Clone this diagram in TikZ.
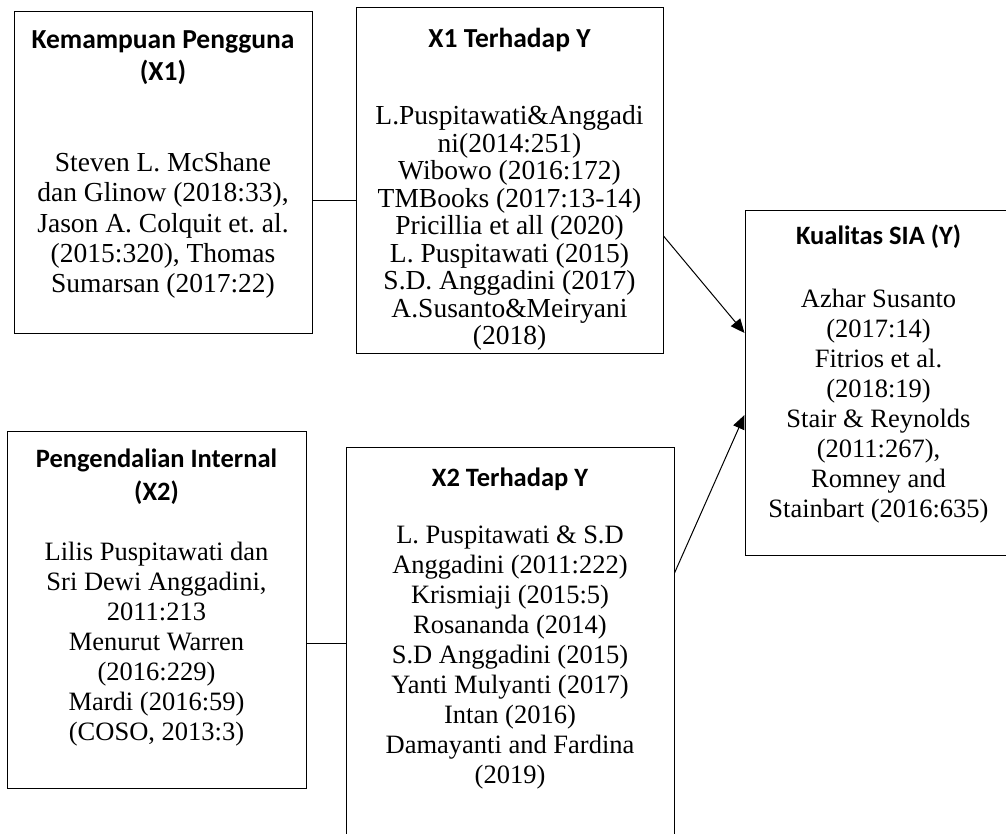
\documentclass[tikz,border=0pt]{standalone}
\usepackage{fontspec}
\setmainfont{Liberation Serif}
\newfontfamily\headfont{Carlito}
\usetikzlibrary{arrows.meta}
\frenchspacing
\newcommand{\hd}[1]{{\headfont\bfseries #1}}
\tikzstyle{box} = [rectangle, draw=black, line width=1pt, inner sep=0pt]
\tikzstyle{txt} = [anchor=north, align=center, inner sep=0pt,
    font=\fontsize{26.5}{30}\selectfont]
\tikzstyle{link} = [line width=1pt]
\tikzstyle{arrow} = [line width=1pt,-{Triangle[length=14pt,width=12pt]}]

\begin{document}
\begin{tikzpicture}[x=1pt,y=-1pt]
    \useasboundingbox (0,0) rectangle (1006,833);
    % boxes
    \node (kp) [box, minimum width=298pt, minimum height=322pt] at (163,172) {};
    \node (x1y) [box, minimum width=307pt, minimum height=346pt] at (509.5,180) {};
    \node (sia) [box, minimum width=267pt, minimum height=345pt] at (878.5,382.5) {};
    \node (pi) [box, minimum width=299pt, minimum height=357pt] at (156.5,609.5) {};
    \node (x2y) [box, minimum width=328pt, minimum height=453pt] at (510,673.5) {};
    % texts
    \node (kptxt) [txt, font=\fontsize{27.5}{30.4}\selectfont, yshift=-20pt] at (kp.north)
        {\hd{Kemampuan Pengguna}\\[2pt]\hd{(X1)}\\[60pt]
        Steven L. McShane\\dan Glinow (2018:33),\\Jason A. Colquit et. al.\\
        (2015:320), Thomas\\Sumarsan (2017:22)};
    \node (x1ytxt) [txt, font=\fontsize{27.5}{27.5}\selectfont, yshift=-21pt] at (x1y.north)
        {\hd{X1 Terhadap Y}\\[50pt]
        L.Puspitawati\&Anggadi\\ni(2014:251)\\Wibowo (2016:172)\\
        TMBooks (2017:13-14)\\Pricillia et all (2020)\\L. Puspitawati (2015)\\
        S.D. Anggadini (2017)\\A.Susanto\&Meiryani\\(2018)};
    \node (siatxt) [txt, yshift=-15pt] at (sia.north)
        {\hd{Kualitas SIA (Y)}\\[33pt]
        Azhar Susanto\\(2017:14)\\Fitrios et al.\\(2018:19)\\
        Stair \& Reynolds\\(2011:267),\\Romney and\\Stainbart (2016:635)};
    \node (pitxt) [txt, yshift=-18pt] at (pi.north)
        {\hd{Pengendalian Internal}\\[3pt]\hd{(X2)}\\[30pt]
        Lilis Puspitawati dan\\Sri Dewi Anggadini,\\2011:213\\Menurut Warren\\
        (2016:229)\\Mardi (2016:59)\\(COSO, 2013:3)};
    \node (x2ytxt) [txt, yshift=-21pt] at (x2y.north)
        {\hd{X2 Terhadap Y}\\[27pt]
        L. Puspitawati \& S.D\\Anggadini (2011:222)\\Krismiaji (2015:5)\\
        Rosananda (2014)\\S.D Anggadini (2015)\\Yanti Mulyanti (2017)\\
        Intan (2016)\\Damayanti and Fardina\\(2019)};
    % connectors
    \coordinate (r1) at (0,200);
    \coordinate (r2) at (0,643);
    \draw [link] (kp.east |- r1) -- (x1y.west |- r1);
    \draw [link] (pi.east |- r2) -- (x2y.west |- r2);
    \draw [arrow] ([yshift=-56pt]x1y.east) -- ([yshift=49.5pt]sia.west);
    \draw [arrow] ([yshift=100.5pt]x2y.east) -- ([yshift=-32.5pt]sia.west);
\end{tikzpicture}
\end{document}
